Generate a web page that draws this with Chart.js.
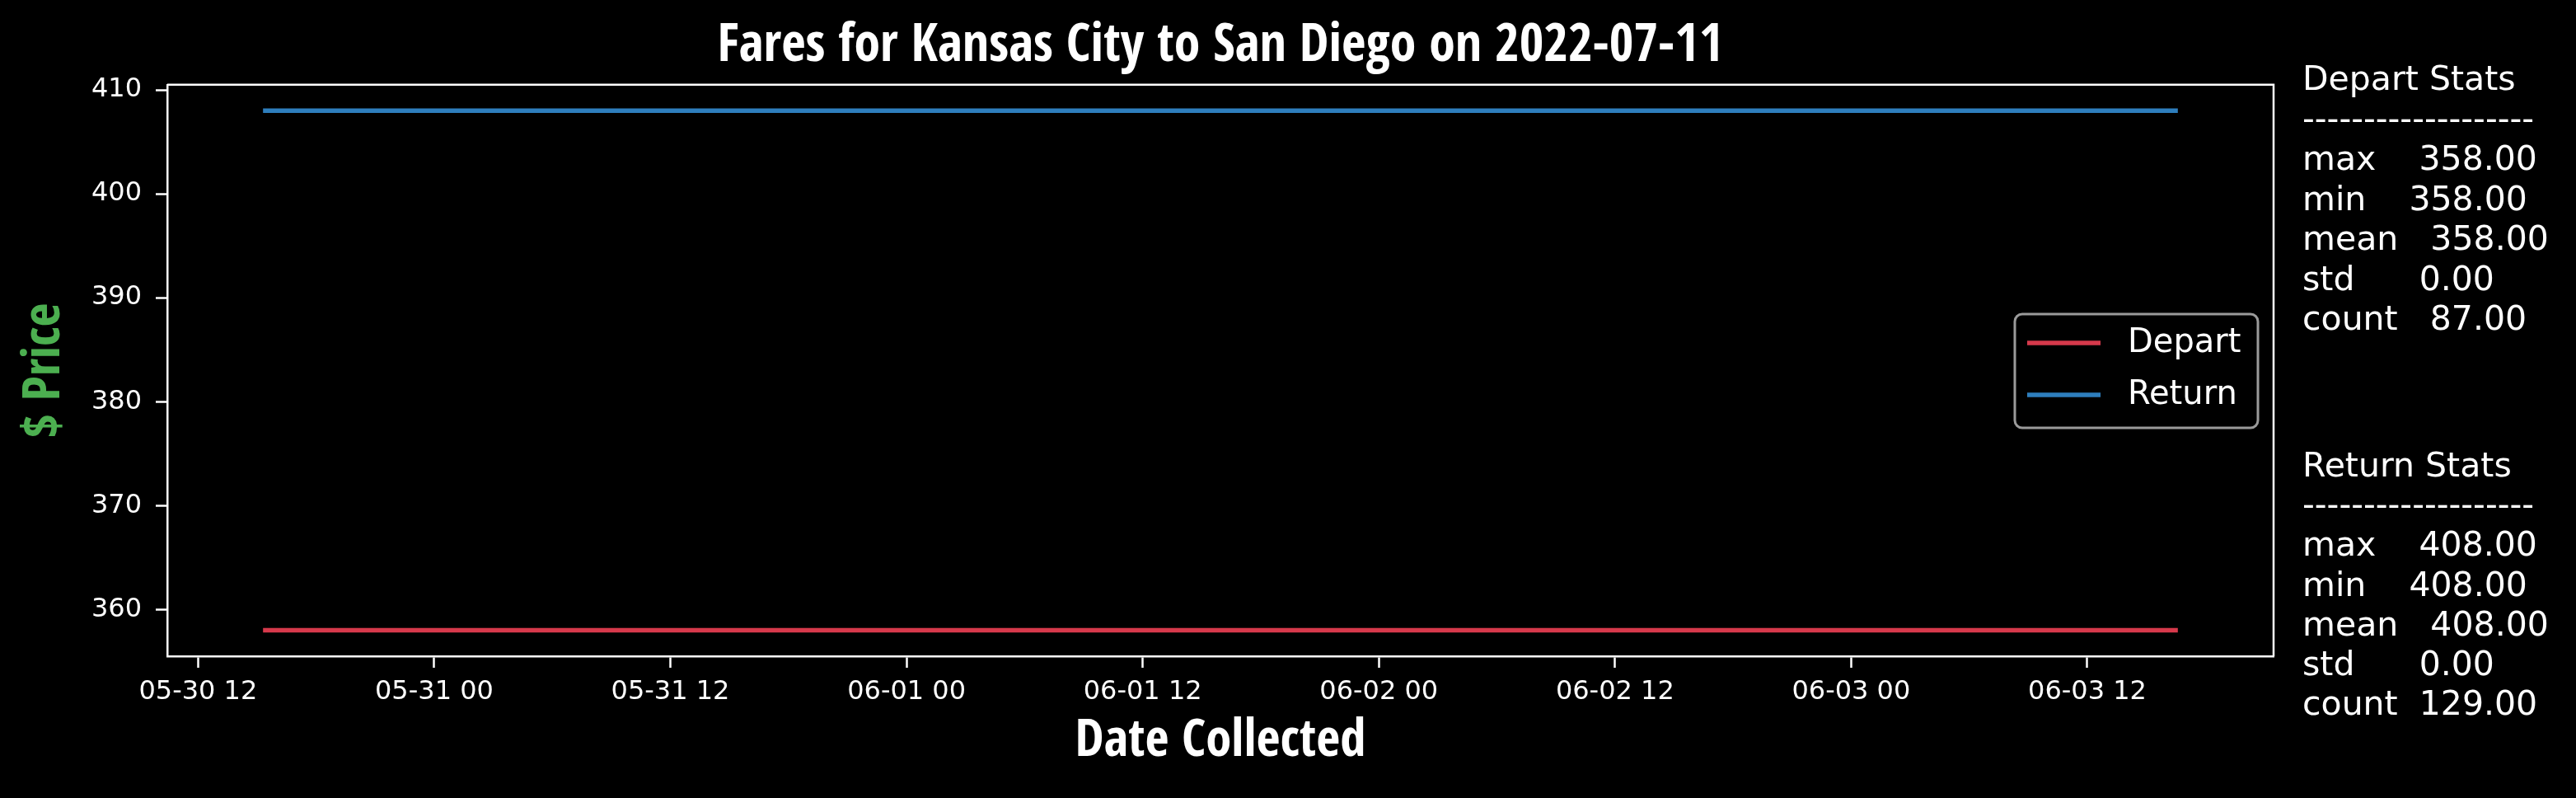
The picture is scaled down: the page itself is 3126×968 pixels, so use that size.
<!DOCTYPE html>
<html>
<head>
<meta charset="utf-8">
<title>Fares for Kansas City to San Diego on 2022-07-11</title>
<script src="https://cdn.jsdelivr.net/npm/chart.js@4.4.1/dist/chart.umd.min.js"></script>
<style>
  html, body { margin: 0; padding: 0; background: #000; }
  #wrap { width: 3126px; height: 968px; }
</style>
</head>
<body>
<div id="wrap"><canvas id="fares" width="3126" height="968"></canvas></div>
<script>
/* values (fares are flat over the whole window) */
const collected    = ["2022-05-30T15:18:00Z", "2022-06-03T16:36:00Z"];
const departFares  = [358, 358];
const returnFares  = [408, 408];

const xTickTimes = [
  "2022-05-30T12:00:00Z", "2022-05-31T00:00:00Z", "2022-05-31T12:00:00Z",
  "2022-06-01T00:00:00Z", "2022-06-01T12:00:00Z", "2022-06-02T00:00:00Z",
  "2022-06-02T12:00:00Z", "2022-06-03T00:00:00Z", "2022-06-03T12:00:00Z"
];
const yTicks = [360, 370, 380, 390, 400, 410];

const departStats = ["Depart Stats", "-------------------", "max    358.00", "min    358.00",
                     "mean   358.00", "std      0.00", "count   87.00"];
const returnStats = ["Return Stats", "-------------------", "max    408.00", "min    408.00",
                     "mean   408.00", "std      0.00", "count  129.00"];

/* ---------- helpers ---------- */
const pad2 = n => String(n).padStart(2, "0");
function fmtTick(ms) {
  const d = new Date(ms);
  return `${pad2(d.getUTCMonth() + 1)}-${pad2(d.getUTCDate())} ${pad2(d.getUTCHours())}`;
}
const toPoints = (times, vals) => times.map((t, i) => ({ x: Date.parse(t), y: vals[i] }));

// matplotlib-style 5% margin around the data
const t0 = Date.parse(collected[0]);
const t1 = Date.parse(collected[collected.length - 1]);
const xMargin = (t1 - t0) * 0.05;
const yLo = Math.min(...departFares, ...returnFares);
const yHi = Math.max(...departFares, ...returnFares);
const yMargin = (yHi - yLo) * 0.05;

const TICK_FONT = { family: "DejaVu Sans", size: 32 };
const HEAD_FONT = "'Open Sans Condensed', 'Roboto Condensed', sans-serif";

/* ---------- frame, legend box and stats text ---------- */
const extras = {
  id: "extras",
  afterLayout(chart) {
    // center the title over the plot area, like matplotlib's ax.set_title
    const tb = chart.titleBlock, a = chart.chartArea;
    if (tb && a) {
      tb.left = a.left;
      tb.right = a.right;
      tb.width = a.right - a.left;
    }
  },
  afterDraw(chart) {
    const { ctx, chartArea: a } = chart;
    ctx.save();

    // top + right spines
    ctx.strokeStyle = "#fff";
    ctx.lineWidth = 2.5;
    ctx.beginPath();
    ctx.moveTo(a.left, a.top);
    ctx.lineTo(a.right, a.top);
    ctx.lineTo(a.right, a.bottom);
    ctx.stroke();

    // legend (matplotlib "center right" style)
    const bx = 2445, by = 381, bw = 295, bh = 138;
    ctx.beginPath();
    ctx.roundRect(bx, by, bw, bh, 9);
    ctx.fillStyle = "#000";
    ctx.fill();
    ctx.strokeStyle = "#9a9a9a";
    ctx.lineWidth = 3;
    ctx.stroke();

    ctx.font = "40px 'DejaVu Sans'";
    ctx.textBaseline = "middle";
    ctx.textAlign = "left";
    chart.data.datasets.forEach((ds, i) => {
      const y = 416 + i * 63;
      ctx.strokeStyle = ds.borderColor;
      ctx.lineWidth = 5.5;
      ctx.beginPath();
      ctx.moveTo(2460, y);
      ctx.lineTo(2549, y);
      ctx.stroke();
      ctx.fillStyle = "#fff";
      ctx.fillText(ds.label, 2582, y + 1);
    });

    // stats blocks on the right
    ctx.font = "41px 'DejaVu Sans'";
    ctx.textBaseline = "alphabetic";
    ctx.fillStyle = "#fff";
    departStats.forEach((line, i) => ctx.fillText(line, 2794, 109 + i * 48.5));
    returnStats.forEach((line, i) => ctx.fillText(line, 2794, 578 + i * 48.2));

    ctx.restore();
  }
};

/* ---------- chart ---------- */
function bootstrap() {
  new Chart(document.getElementById("fares"), {
    type: "line",
    data: {
      datasets: [
        { label: "Depart", data: toPoints(collected, departFares), borderColor: "#d6394b",
          borderWidth: 5.5, pointRadius: 0, tension: 0 },
        { label: "Return", data: toPoints(collected, returnFares), borderColor: "#2e7ebd",
          borderWidth: 5.5, pointRadius: 0, tension: 0 }
      ]
    },
    options: {
      responsive: false,
      animation: false,
      layout: { padding: { left: 0, right: 367, top: 0, bottom: 0 } },
      plugins: {
        legend: { display: false },
        tooltip: { enabled: false },
        title: {
          display: true,
          text: "Fares for Kansas City to San Diego on 2022-07-11",
          color: "#fff",
          font: { family: HEAD_FONT, weight: "bold", size: 64, lineHeight: 1.2 },
          padding: { top: 19, bottom: 7 }
        }
      },
      scales: {
        x: {
          type: "linear",
          min: t0 - xMargin,
          max: t1 + xMargin,
          afterBuildTicks: s => { s.ticks = xTickTimes.map(t => ({ value: Date.parse(t) })); },
          afterFit: s => { s.height = 172; },
          ticks: { color: "#fff", font: TICK_FONT, padding: 10, maxRotation: 0, autoSkip: false,
                   callback: v => fmtTick(v) },
          grid: { display: true, drawOnChartArea: false, drawTicks: true, tickLength: 14,
                  tickColor: "#fff", tickWidth: 2.5 },
          border: { display: true, color: "#fff", width: 2.5 },
          title: { display: true, text: "Date Collected", color: "#fff",
                   font: { family: HEAD_FONT, weight: "bold", size: 63, lineHeight: 1.2 },
                   padding: { top: 0, bottom: 30 } }
        },
        y: {
          min: yLo - yMargin,
          max: yHi + yMargin,
          afterBuildTicks: s => { s.ticks = yTicks.map(v => ({ value: v })); },
          afterFit: s => { s.width = 203; },
          ticks: { color: "#fff", font: TICK_FONT, padding: 17 },
          grid: { display: true, drawOnChartArea: false, drawTicks: true, tickLength: 14,
                  tickColor: "#fff", tickWidth: 2.5 },
          border: { display: true, color: "#fff", width: 2.5 },
          title: { display: true, text: "$ Price", color: "#4caf50",
                   font: { family: HEAD_FONT, weight: "bold", size: 63, lineHeight: 1.2 },
                   padding: { top: 18, bottom: 0 } }
        }
      }
    },
    plugins: [extras]
  });
}

document.addEventListener("DOMContentLoaded", bootstrap);
</script>
</body>
</html>
